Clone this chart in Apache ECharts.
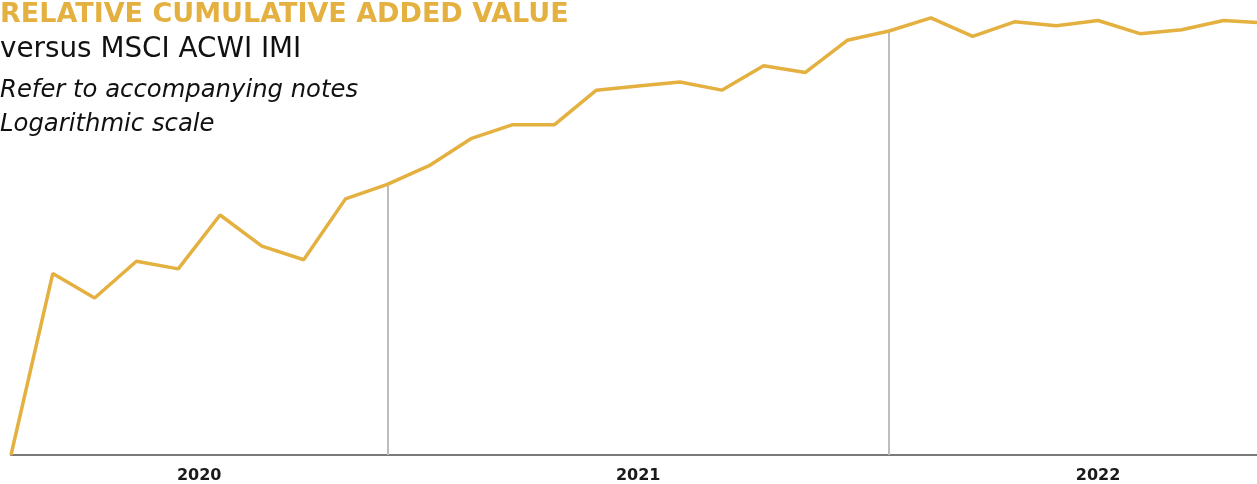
<!DOCTYPE html>
<html>
<head>
<meta charset="utf-8">
<script src="https://cdn.jsdelivr.net/npm/echarts@6/dist/echarts.min.js"></script>
<style>
  html, body { margin: 0; padding: 0; background: #fff; }
  #chart { width: 1257px; height: 484px; }
</style>
</head>
<body>
<div id="chart"></div>
<script>
// monthly points, Mar 2020 .. Oct 2022
const months = [
  '2020-03', '2020-04', '2020-05', '2020-06', '2020-07', '2020-08', '2020-09', '2020-10', '2020-11', '2020-12',
  '2021-01', '2021-02', '2021-03', '2021-04', '2021-05', '2021-06', '2021-07', '2021-08', '2021-09', '2021-10', '2021-11', '2021-12',
  '2022-01', '2022-02', '2022-03', '2022-04', '2022-05', '2022-06', '2022-07', '2022-08', '2022-09', '2022-10'
]
// relative cumulative added value (index, start = 100)
const addedValue = [
  100.0, 111.3, 109.7, 112.1, 111.6, 115.2, 113.1, 112.2, 116.3, 117.3,
  118.6, 120.5, 121.5, 121.5, 124.0, 124.3, 124.6, 124.0, 125.8, 125.3, 127.7, 128.4,
  129.4, 128.0, 129.1, 128.8, 129.2, 128.2, 128.5, 129.2, 129.0, 128.8
]
const years = ['2020', '2021', '2022']
const yMin = 100
const yMax = 130

// the picture is cropped on the right: only the months up to here are visible
const visibleMax = 29.8

const gold = '#E4B03F'

// year boundaries (index of last month of each year) and label centres
const yearEnds = years.map(y => {
  let last = -1
  months.forEach((m, i) => { if (m.startsWith(y)) last = i })
  return last
})
const yearStarts = yearEnds.map((e, k) => k === 0 ? 0 : yearEnds[k - 1])
const yearCentres = years.map((y, k) => (yearStarts[k] + yearEnds[k]) / 2)

const chartRef = document.getElementById('chart')
const chartInstance = echarts.init(chartRef)

const dropLines = yearEnds.slice(0, -1).map(i => [
  { coord: [i, yMin] },
  { coord: [i, addedValue[i]] }
])

const subStyle = { color: '#111', fontSize: 27.8, fontWeight: 'normal', fontFamily: 'DejaVu Sans' }
const noteStyle = { color: '#111', fontSize: 24.3, fontWeight: 'normal', fontStyle: 'italic', fontFamily: 'DejaVu Sans' }

const chartOption = {
  animation: false,
  title: [{
    text: 'RELATIVE CUMULATIVE ADDED VALUE',
    left: 0, top: 1, padding: 0,
    textStyle: { color: gold, fontSize: 27, fontWeight: 'bold', fontFamily: 'DejaVu Sans' }
  }, {
    text: 'versus MSCI ACWI IMI',
    left: 0, top: 36, padding: 0,
    textStyle: subStyle
  }, {
    text: 'Refer to accompanying notes',
    left: 0, top: 79, padding: 0,
    textStyle: noteStyle
  }, {
    text: 'Logarithmic scale',
    left: 0, top: 113, padding: 0,
    textStyle: noteStyle
  }],
  grid: { left: 11, right: 0, top: 10, bottom: 28 },
  xAxis: {
    type: 'value',
    min: 0,
    max: visibleMax,
    splitLine: { show: false },
    axisTick: { show: false },
    axisLine: { show: true, lineStyle: { color: '#7a7a7a', width: 2 } },
    axisLabel: {
      customValues: yearCentres,
      formatter: v => years[yearCentres.indexOf(v)] || '',
      color: '#1a1a1a',
      fontSize: 16,
      fontWeight: 'bold',
      fontFamily: 'DejaVu Sans',
      margin: 13
    }
  },
  yAxis: {
    type: 'log',
    min: yMin,
    max: yMax,
    show: false
  },
  series: [{
    type: 'line',
    data: addedValue.map((v, i) => [i, v]),
    showSymbol: false,
    clip: true,
    lineStyle: { color: gold, width: 3.5 },
    z: 3,
    markLine: {
      silent: true,
      symbol: 'none',
      label: { show: false },
      lineStyle: { color: '#bdbdbd', width: 2, type: 'solid' },
      z: 1,
      data: dropLines
    }
  }]
}
chartInstance.setOption(chartOption)

window.addEventListener('resize', function () {
  chartInstance.resize()
})
</script>
</body>
</html>
